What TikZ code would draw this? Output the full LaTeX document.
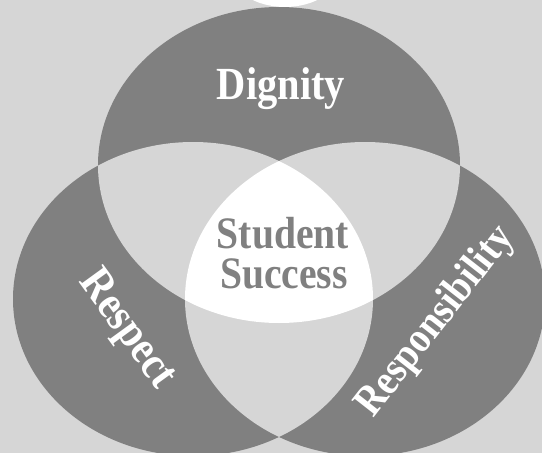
\documentclass[tikz,border=0pt]{standalone}
\usepackage{fontspec}
\setmainfont{Liberation Serif}
\newfontfamily\condserif{Liberation Serif}[FakeStretch=0.88]
\definecolor{bggray}{HTML}{D6D6D6}
\definecolor{darkgray}{HTML}{808080}
\tikzset{
  whitelabel/.style={text=white, font=\condserif\fontsize{46}{46}\selectfont\bfseries, inner sep=0pt},
  centerlabel/.style={text=darkgray, font=\condserif\fontsize{45}{45}\selectfont\bfseries, inner sep=0pt},
}
\def\ellT{(279,165) ellipse [x radius=181pt, y radius=158pt]}
\def\ellL{(193,299) ellipse [x radius=180pt, y radius=157pt]}
\def\ellR{(365,299) ellipse [x radius=180pt, y radius=157pt]}
\begin{document}
\begin{tikzpicture}[x=1pt,y=-1pt]
\fill[bggray] (0,0) rectangle (542,453);
\useasboundingbox (0,0) rectangle (542,453);
\begin{scope}
\clip (0,0) rectangle (542,453);
\fill[darkgray] \ellT;
\fill[darkgray] \ellL;
\fill[darkgray] \ellR;
\begin{scope}\clip \ellT; \fill[bggray] \ellL; \end{scope}
\begin{scope}\clip \ellT; \fill[bggray] \ellR; \end{scope}
\begin{scope}\clip \ellL; \fill[bggray] \ellR; \end{scope}
\begin{scope}\clip \ellT; \clip \ellL; \fill[white] \ellR; \end{scope}
\fill[white] (285,-30) ellipse [x radius=55pt, y radius=37pt];
\end{scope}
\node[whitelabel, anchor=base] (dignity) at (281,99) {Dignity};
\node[centerlabel, anchor=base] (student) at (283,248) {Student};
\node[centerlabel, anchor=base] (success) at (284,288) {Success};
\node[whitelabel, rotate=-54] (respect) at (126,330) {Respect};
\node[whitelabel, font=\condserif\fontsize{43}{43}\selectfont\bfseries, rotate=52] (resp) at (436,322) {Responsibility};
\end{tikzpicture}
\end{document}
